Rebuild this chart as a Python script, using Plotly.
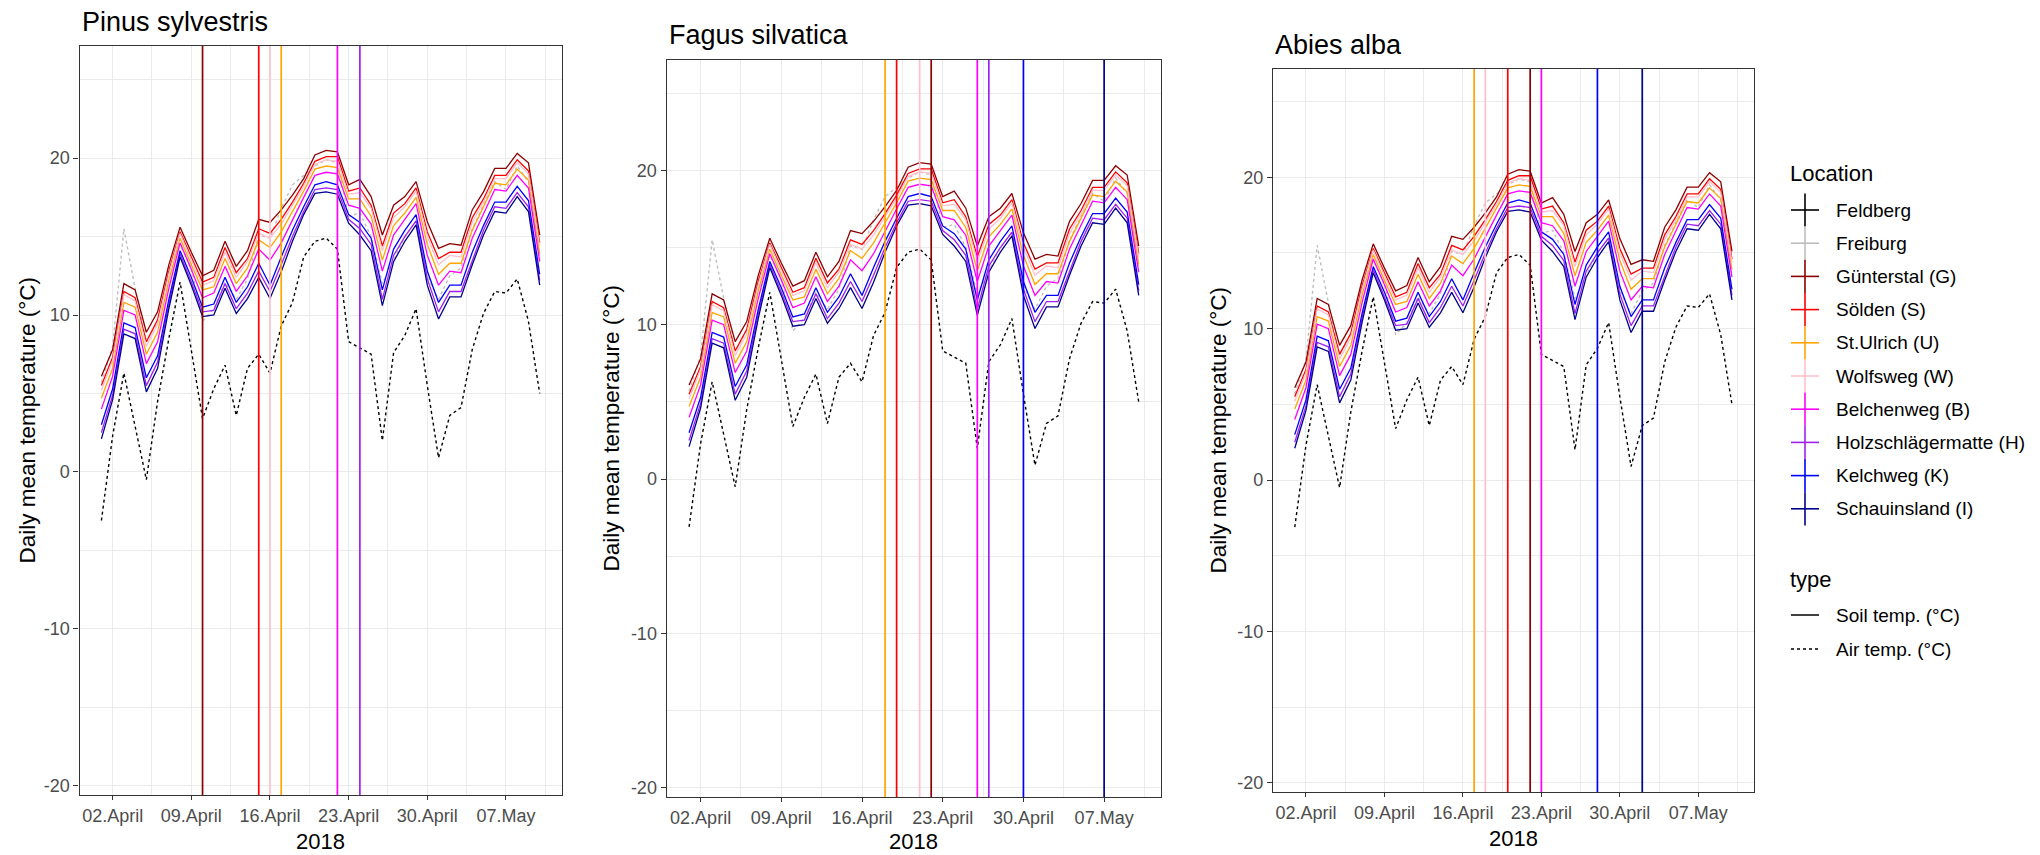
import pandas as pd
import plotly.graph_objects as go

W, H = 2040, 855

# ---------------- data ----------------
dates = list(pd.date_range("2018-04-01", "2018-05-10", freq="D"))

feldberg_air = [-3.1, 2.3, 6.3, 2.9, -0.5, 4.5, 8.5, 12.1, 7.7, 3.4, 5.3, 6.8, 3.6, 6.6, 7.5, 6.3,
                9.3, 10.8, 13.7, 14.7, 14.9, 14.2, 8.3, 7.9, 7.5, 2.0, 7.6, 8.7, 10.4, 5.5, 0.9, 3.6,
                4.1, 7.8, 10.1, 11.5, 11.4, 12.3, 9.6, 5.0]
freiburg_air = [5.7, 8.0, 15.5, 11.7, 8.3, 9.6, 13.0, 14.5, 13.0, 9.6, 10.4, 12.1, 11.0, 12.3, 15.1, 14.9,
                16.8, 18.3, 18.9, 19.5, 19.9, 19.7, 16.3, 16.5, 15.0, 12.0, 13.5, 15.0, 16.0, 12.5, 11.0, 12.5,
                13.0, 15.5, 17.0, 18.5, 18.0, 19.5, 18.5, 13.5]
guenterstal = [6.1, 7.8, 12.0, 11.6, 8.9, 10.2, 13.2, 15.6, 14.0, 12.5, 12.85, 14.7, 13.1, 14.1, 16.1, 15.9,
               16.7, 17.65, 18.7, 20.2, 20.5, 20.4, 18.3, 18.65, 17.55, 15.1, 17.0, 17.55, 18.5, 15.95, 14.25, 14.55,
               14.45, 16.7, 17.85, 19.35, 19.35, 20.3, 19.7, 15.1]
soelden = [5.5, 7.3, 11.5, 11.1, 8.3, 9.7, 12.8, 15.3, 13.7, 12.1, 12.4, 14.3, 12.7, 13.6, 15.5, 15.2,
           16.1, 17.2, 18.4, 19.8, 20.1, 20.1, 17.9, 18.1, 17.0, 14.4, 16.5, 17.1, 18.1, 15.3, 13.6, 14.0,
           14.0, 16.2, 17.4, 18.9, 18.9, 19.9, 19.2, 14.6]
st_ulrich = [4.7, 6.6, 10.8, 10.5, 7.5, 8.9, 12.2, 14.9, 13.2, 11.6, 11.8, 13.6, 12.0, 13.0, 14.8, 14.3,
             15.3, 16.6, 17.9, 19.3, 19.5, 19.4, 17.4, 17.4, 16.3, 13.5, 15.7, 16.5, 17.5, 14.5, 12.6, 13.3,
             13.3, 15.4, 16.9, 18.4, 18.3, 19.3, 18.6, 13.9]
wolfsweg = [5.2, 7.1, 11.3, 10.9, 8.0, 9.4, 12.6, 15.2, 13.5, 11.9, 12.2, 14.0, 12.4, 13.4, 15.2, 14.9,
            15.8, 17.0, 18.2, 19.6, 19.9, 19.8, 17.7, 17.8, 16.8, 14.1, 16.2, 16.9, 17.9, 15.0, 13.2, 13.8,
            13.7, 15.9, 17.2, 18.7, 18.7, 19.7, 19.0, 14.4]
belchenweg = [4.0, 6.1, 10.3, 10.0, 6.9, 8.3, 11.7, 14.6, 12.9, 11.1, 11.4, 13.1, 11.5, 12.5, 14.2, 13.5,
              14.6, 16.1, 17.5, 18.9, 19.1, 19.0, 17.0, 16.8, 15.8, 12.8, 15.1, 16.1, 17.1, 13.8, 11.9, 12.8,
              12.7, 14.9, 16.4, 18.0, 17.9, 18.9, 18.1, 13.4]
holzschlaeger = [2.5, 4.9, 9.1, 8.8, 5.5, 7.0, 10.7, 13.9, 12.1, 10.2, 10.3, 12.0, 10.4, 11.4, 12.8, 11.5,
                 13.2, 15.0, 16.6, 18.0, 18.1, 18.0, 16.1, 15.5, 14.5, 11.0, 13.8, 15.0, 16.0, 12.3, 10.2, 11.5,
                 11.5, 13.5, 15.4, 16.9, 16.8, 17.8, 16.9, 12.2]
kelchweg = [3.0, 5.3, 9.5, 9.2, 6.0, 7.4, 11.0, 14.1, 12.4, 10.5, 10.7, 12.4, 10.8, 11.8, 13.3, 11.9,
            13.7, 15.4, 16.9, 18.3, 18.5, 18.3, 16.4, 15.9, 14.9, 11.6, 14.2, 15.4, 16.4, 12.8, 10.8, 11.9,
            11.9, 14.0, 15.7, 17.2, 17.2, 18.2, 17.3, 12.6]
schauinsland = [2.1, 4.6, 8.8, 8.5, 5.1, 6.6, 10.4, 13.7, 11.9, 9.9, 10.0, 11.7, 10.1, 11.05, 12.4, 11.05,
                12.75, 14.7, 16.4, 17.75, 17.85, 17.7, 15.85, 15.1, 14.1, 10.6, 13.4, 14.7, 15.75, 11.9, 9.75, 11.15,
                11.15, 13.2, 15.1, 16.6, 16.5, 17.55, 16.6, 11.9]

locations = ["Feldberg", "Freiburg", "Günterstal (G)", "Sölden (S)", "St.Ulrich (U)", "Wolfsweg (W)",
             "Belchenweg (B)", "Holzschlägermatte (H)", "Kelchweg (K)", "Schauinsland (I)"]
types = ["Soil temp. (°C)", "Air temp. (°C)"]

y_tick_vals = [-20, -10, 0, 10, 20]
y_tick_text = ["-20", "-10", "0", "10", "20"]

air_series = {"Feldberg": feldberg_air, "Freiburg": freiburg_air}
soil_series = {
    "Günterstal (G)": guenterstal, "Sölden (S)": soelden, "St.Ulrich (U)": st_ulrich,
    "Wolfsweg (W)": wolfsweg, "Belchenweg (B)": belchenweg,
    "Holzschlägermatte (H)": holzschlaeger, "Kelchweg (K)": kelchweg,
    "Schauinsland (I)": schauinsland,
}

species = ["Pinus sylvestris", "Fagus silvatica", "Abies alba"]
event_locs = [
    ["Günterstal (G)", "Sölden (S)", "Wolfsweg (W)", "St.Ulrich (U)", "Belchenweg (B)", "Holzschlägermatte (H)"],
    ["St.Ulrich (U)", "Sölden (S)", "Wolfsweg (W)", "Günterstal (G)", "Belchenweg (B)", "Holzschlägermatte (H)",
     "Kelchweg (K)", "Schauinsland (I)"],
    ["St.Ulrich (U)", "Wolfsweg (W)", "Sölden (S)", "Günterstal (G)", "Belchenweg (B)", "Kelchweg (K)",
     "Schauinsland (I)"],
]
event_dates = [
    ["2018-04-10", "2018-04-15", "2018-04-16", "2018-04-17", "2018-04-22", "2018-04-24"],
    ["2018-04-18", "2018-04-19", "2018-04-21", "2018-04-22", "2018-04-26", "2018-04-27", "2018-04-30", "2018-05-07"],
    ["2018-04-17", "2018-04-18", "2018-04-20", "2018-04-22", "2018-04-23", "2018-04-28", "2018-05-02"],
]

# ---------------- styles ----------------
colors = {
    "Feldberg": "#000000", "Freiburg": "#BEBEBE", "Günterstal (G)": "#8B0000", "Sölden (S)": "#FF0000",
    "St.Ulrich (U)": "#FFA500", "Wolfsweg (W)": "#FFC0CB", "Belchenweg (B)": "#FF00FF",
    "Holzschlägermatte (H)": "#A020F0", "Kelchweg (K)": "#0000FF", "Schauinsland (I)": "#00008B",
}
FONT = "Liberation Sans, Arial, sans-serif"

# panel boxes in pixels: (left, right, top, bottom)
panels = [(79.5, 561.6, 46, 795), (666.6, 1161.2, 60, 797), (1272.9, 1753.8, 69, 792)]
title_y = [22, 35, 45]
ytitle_x = [27, 611, 1218]
xtitle_y = [841, 841, 838]

def px(x):
    return x / W

def py(y):
    return 1 - y / H

XR = ["2018-03-30 01:12", "2018-05-11 22:48"]
YR = [-20.6, 27.15]
DAY = 86400000

fig = go.Figure()
annotations = []
shapes = []

for k in range(3):
    xa = "x" if k == 0 else f"x{k+1}"
    ya = "y" if k == 0 else f"y{k+1}"
    # air temperature (dotted)
    for loc, vals in air_series.items():
        fig.add_trace(go.Scatter(x=dates, y=vals, mode="lines", xaxis=xa, yaxis=ya,
                                 line=dict(color=colors[loc], width=1.4, dash="dot"),
                                 showlegend=False, hoverinfo="skip"))
    # soil temperature (solid)
    for loc, vals in soil_series.items():
        fig.add_trace(go.Scatter(x=dates, y=vals, mode="lines", xaxis=xa, yaxis=ya,
                                 line=dict(color=colors[loc], width=1.3),
                                 showlegend=False, hoverinfo="skip"))
    # vertical event lines
    for loc, d in zip(event_locs[k], event_dates[k]):
        fig.add_trace(go.Scatter(x=[d, d], y=YR, mode="lines", xaxis=xa, yaxis=ya,
                                 line=dict(color=colors[loc], width=1.7),
                                 showlegend=False, hoverinfo="skip"))

    l, r, t, b = panels[k]
    axx = dict(domain=[px(l), px(r)], anchor=ya, type="date", range=XR,
               tick0="2018-04-02", dtick=7 * DAY, tickformat="%d.%B",
               showline=True, mirror=True, linecolor="#333333", linewidth=1.2,
               ticks="outside", ticklen=4, tickwidth=1.2, tickcolor="#333333",
               showgrid=True, gridcolor="#EBEBEB", gridwidth=1.4, zeroline=False,
               tickfont=dict(family=FONT, size=18, color="#4D4D4D"),
               minor=dict(tick0="2018-03-29 12:00", dtick=3.5 * DAY, showgrid=True,
                          gridcolor="#EBEBEB", gridwidth=0.7, ticks=""))
    axy = dict(domain=[py(b), py(t)], anchor=xa, range=YR,
               tickmode="array", tickvals=y_tick_vals, ticktext=y_tick_text,
               showline=True, mirror=True, linecolor="#333333", linewidth=1.2,
               ticks="outside", ticklen=5, tickwidth=1.2, tickcolor="#333333",
               showgrid=True, gridcolor="#EBEBEB", gridwidth=1.4, zeroline=False,
               tickfont=dict(family=FONT, size=18, color="#4D4D4D"),
               minor=dict(tick0=5, dtick=10, showgrid=True, gridcolor="#EBEBEB", gridwidth=0.7, ticks=""))
    fig.update_layout(**{("xaxis" if k == 0 else f"xaxis{k+1}"): axx,
                         ("yaxis" if k == 0 else f"yaxis{k+1}"): axy})

    annotations.append(dict(text=species[k], x=px(l), y=py(title_y[k]), xref="paper", yref="paper",
                            xanchor="left", yanchor="middle", showarrow=False,
                            font=dict(family=FONT, size=27, color="#000000")))
    annotations.append(dict(text="Daily mean temperature (°C)", x=px(ytitle_x[k]), y=py((t + b) / 2),
                            xref="paper", yref="paper", xanchor="center", yanchor="middle",
                            textangle=-90, showarrow=False,
                            font=dict(family=FONT, size=22.5, color="#000000")))
    annotations.append(dict(text="2018", x=px((l + r) / 2), y=py(xtitle_y[k]), xref="paper", yref="paper",
                            xanchor="center", yanchor="middle", showarrow=False,
                            font=dict(family=FONT, size=22, color="#000000")))

# ---------------- manual legend ----------------
LX0, LX1, LXC, LTX = 1791, 1819, 1805, 1834
annotations.append(dict(text="Location", x=px(1788), y=py(173), xref="paper", yref="paper",
                        xanchor="left", yanchor="middle", showarrow=False,
                        font=dict(family=FONT, size=22, color="#000000")))
for j, loc in enumerate(locations):
    yc = 210 + 33.2 * j
    c = colors[loc]
    shapes.append(dict(type="line", xref="paper", yref="paper", x0=px(LX0), x1=px(LX1),
                       y0=py(yc), y1=py(yc), line=dict(color=c, width=1.6)))
    shapes.append(dict(type="line", xref="paper", yref="paper", x0=px(LXC), x1=px(LXC),
                       y0=py(yc - 16.6), y1=py(yc + 16.6), line=dict(color=c, width=1.6)))
    annotations.append(dict(text=loc, x=px(LTX), y=py(yc), xref="paper", yref="paper",
                            xanchor="left", yanchor="middle", showarrow=False,
                            font=dict(family=FONT, size=19, color="#000000")))

annotations.append(dict(text="type", x=px(1788), y=py(579), xref="paper", yref="paper",
                        xanchor="left", yanchor="middle", showarrow=False,
                        font=dict(family=FONT, size=22, color="#000000")))
for j, (tname, dash) in enumerate(zip(types, ["solid", "dot"])):
    yc = 615 + 34 * j
    shapes.append(dict(type="line", xref="paper", yref="paper", x0=px(LX0), x1=px(LX1),
                       y0=py(yc), y1=py(yc), line=dict(color="#000000", width=1.5, dash=dash)))
    annotations.append(dict(text=tname, x=px(LTX), y=py(yc), xref="paper", yref="paper",
                            xanchor="left", yanchor="middle", showarrow=False,
                            font=dict(family=FONT, size=19, color="#000000")))

fig.update_layout(width=W, height=H, margin=dict(l=0, r=0, t=0, b=0),
                  paper_bgcolor="#FFFFFF", plot_bgcolor="#FFFFFF",
                  showlegend=False, annotations=annotations, shapes=shapes,
                  font=dict(family=FONT))

fig.write_html("out.html", config={"displayModeBar": False},
               post_script="document.body.style.margin='0px';document.body.style.overflow='hidden';")
